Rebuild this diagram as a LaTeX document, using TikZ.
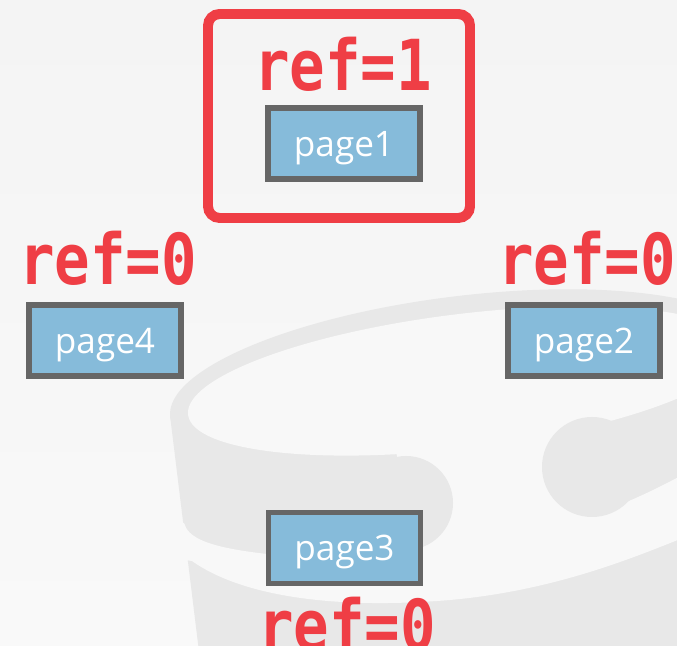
\documentclass[tikz,border=0pt]{standalone}
\usepackage{fontspec}
\usepackage{tikz}
\newfontfamily\reffont{DejaVu Sans Mono}[FakeStretch=0.84]
\newfontfamily\pagefont{Open Sans}
\definecolor{bpred}{HTML}{EF3E45}
\definecolor{bppage}{HTML}{86BBDA}
\definecolor{bpedge}{HTML}{666666}
\definecolor{bpwater}{HTML}{E8E8E8}
\definecolor{bphole}{HTML}{F8F8F8}
\definecolor{bptop}{HTML}{F4F4F4}
\definecolor{bpbottom}{HTML}{F9F9F9}

\begin{document}
\begin{tikzpicture}[x=0.03cm, y=0.03cm,
  refcount/.style={font=\reffont\bfseries\fontsize{60}{64}\selectfont, text=bpred, anchor=base, inner sep=0pt},
  pagebox/.style={draw=bpedge, line width=4.3pt, fill=bppage, minimum width=4.56cm, minimum height=2.13cm,
    inner sep=0pt, text depth=0pt, text=white, font=\pagefont\fontsize{30}{32}\selectfont},
  pinbox/.style={draw=bpred, line width=8.5pt, rounded corners=0.35cm, minimum width=7.86cm, minimum height=6.12cm}]
  \useasboundingbox (0,0) rectangle (677,645);
  \shade[top color=bptop, bottom color=bpbottom] (0,0) rectangle (677,645);
  % faded bucket behind the pages
  \begin{scope}[shift={(463,264)}, rotate=7]
    \fill[bpwater] (0,0) ellipse [x radius=295, y radius=85];
    \fill[bpwater] (-295,0) rectangle (295,-420);
    \fill[bphole] (0,0) ellipse [x radius=277, y radius=67];
  \end{scope}
  \fill[bphole] (150,122) -- (184,122) .. controls (188,108) and (205,98) .. (267,91)
    .. controls (360,82) and (450,92) .. (520,108) .. controls (580,122) and (640,145) .. (700,180)
    -- (700,114) .. controls (640,90) and (560,55) .. (450,45)
    .. controls (330,35) and (240,50) .. (192,84) -- (150,90) -- cycle;
  \draw[bphole, line width=102pt] (406,142) -- (592,178);
  \fill[bpwater] (406,142) circle (47);
  \fill[bpwater] (592,178) circle (50);

  \node[pinbox] (pin) at (339,529) {};
  \node[refcount] (refone) at (343,554) {ref=1};
  \node[pagebox] (pageone) at (344,501.5) {page1};

  \node[refcount] (reffour) at (108,360) {ref=0};
  \node[pagebox] (pagefour) at (105,304.5) {page4};

  \node[refcount] (reftwo) at (587,360) {ref=0};
  \node[pagebox] (pagetwo) at (584,304.5) {page2};

  \node[pagebox] (pagethree) at (344.5,97) {page3};
  \node[refcount] (refthree) at (347,-5) {ref=0};
\end{tikzpicture}
\end{document}
